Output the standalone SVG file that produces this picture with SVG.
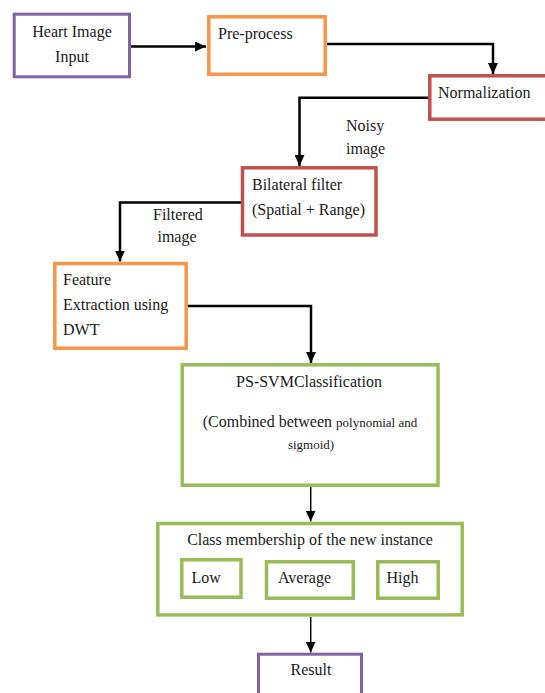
<svg xmlns="http://www.w3.org/2000/svg" width="545" height="693" viewBox="0 0 545 693">
<defs>
<style>
.t{font-family:"Liberation Serif","Times New Roman",serif;font-size:16px;fill:#1a1a1a}
.s{font-size:13px}
.mid{text-anchor:middle}
.box{fill:#fff}
.pu{stroke:#8064A2;stroke-width:3}
.or{stroke:#F79646;stroke-width:3.5}
.rd{stroke:#C0504D;stroke-width:3.5}
.gr{stroke:#9BBB59;stroke-width:3.5}
.c{fill:none;stroke:#000;stroke-width:2.5}
.c2{fill:none;stroke:#000;stroke-width:1.5}
</style>
<marker id="ah" markerUnits="userSpaceOnUse" markerWidth="12" markerHeight="10" refX="11" refY="5" orient="auto">
<path d="M0,0 L11,5 L0,10 Z" fill="#000"/>
</marker>
</defs>
<rect width="545" height="693" fill="#fff"/>

<g id="connectors">
<path class="c" d="M131,46.5 L206,46.5" marker-end="url(#ah)"/>
<path class="c" d="M327,44 L493,44 L493,74" marker-end="url(#ah)"/>
<path class="c" d="M428,97.7 L299.5,97.7 L299.5,166" marker-end="url(#ah)"/>
<path class="c" d="M241,202.5 L120,202.5 L120,261.5" marker-end="url(#ah)"/>
<path class="c" d="M188,306 L311,306 L311,363" marker-end="url(#ah)"/>
<path class="c2" d="M310.7,487 L310.7,521.5" marker-end="url(#ah)"/>
<path class="c2" d="M310.7,617 L310.7,652.5" marker-end="url(#ah)"/>
</g>

<g id="heart-input">
<rect class="box pu" x="14.2" y="14.2" width="115.3" height="62.6"/>
<text class="t mid" x="72" y="37">Heart Image</text>
<text class="t mid" x="72" y="62">Input</text>
</g>

<g id="pre-process">
<rect class="box or" x="208.8" y="16.8" width="116.4" height="57.4"/>
<text class="t" x="218" y="39">Pre-process</text>
</g>

<g id="normalization">
<rect class="box rd" x="429.8" y="75.8" width="120" height="43.4"/>
<text class="t" x="438" y="98">Normalization</text>
</g>

<g id="noisy-label">
<text class="t" x="346" y="131">Noisy</text>
<text class="t" x="346" y="154">image</text>
</g>

<g id="bilateral">
<rect class="box rd" x="242.5" y="167.8" width="133.5" height="67.2"/>
<text class="t" x="252" y="190">Bilateral filter</text>
<text class="t" x="252" y="215">(Spatial + Range)</text>
</g>

<g id="filtered-label">
<text class="t" x="153" y="220">Filtered</text>
<text class="t mid" x="177" y="242">image</text>
</g>

<g id="feature">
<rect class="box or" x="54.8" y="263.5" width="131.4" height="84.7"/>
<text class="t" x="63" y="285">Feature</text>
<text class="t" x="63" y="310">Extraction using</text>
<text class="t" x="63" y="335">DWT</text>
</g>

<g id="ps-svm">
<rect class="box gr" x="182.2" y="364.8" width="255.8" height="120.4"/>
<text class="t mid" x="309" y="387">PS-SVMClassification</text>
<text class="t mid" x="310" y="427">(Combined between <tspan class="s">polynomial and</tspan></text>
<text class="t s mid" x="311" y="449">sigmoid)</text>
</g>

<g id="class-membership">
<rect class="box gr" x="157.8" y="523.5" width="304.4" height="91.4"/>
<text class="t mid" x="310" y="545">Class membership of the new instance</text>
<g id="low">
<rect class="box gr" x="181.8" y="559.8" width="59.2" height="37.4"/>
<text class="t" x="191.5" y="583">Low</text>
</g>
<g id="average">
<rect class="box gr" x="266.5" y="561.8" width="86.8" height="36.4"/>
<text class="t" x="278" y="583">Average</text>
</g>
<g id="high">
<rect class="box gr" x="377.8" y="561.8" width="60.4" height="36.4"/>
<text class="t" x="386.5" y="583">High</text>
</g>
</g>

<g id="result">
<rect class="box pu" x="258.5" y="654.2" width="103" height="45"/>
<text class="t mid" x="311" y="675">Result</text>
</g>
</svg>
